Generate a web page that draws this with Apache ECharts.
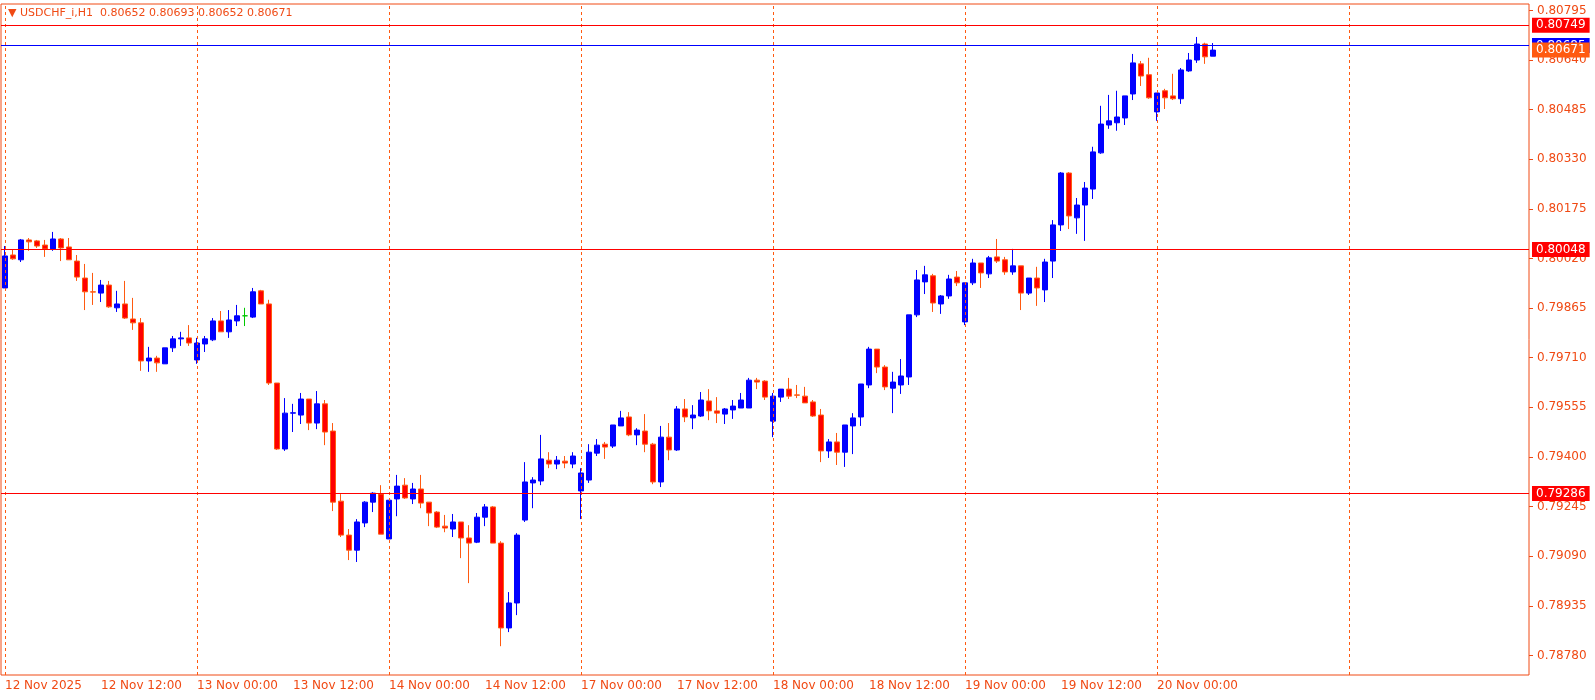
<!DOCTYPE html>
<html><head><meta charset="utf-8">
<script src="https://cdn.jsdelivr.net/npm/echarts@6/dist/echarts.min.js"></script>
<style>html,body{margin:0;padding:0;background:#fff}#c{width:1595px;height:700px}</style>
</head><body><div id="c"></div>
<script>
// OHLC values (1e-5 units of price), one entry per H1 bar from 12 Nov 2025 00:00
const openP  = [79928,80031,80016,80078,80075,80062,80050,80081,80056,80012,79959,79916,79912,79937,79866,79878,79831,79819,79700,79709,79691,79741,79769,79772,79703,79753,79766,79825,79791,79825,79841,79837,79919,79878,79631,79425,79537,79531,79581,79506,79566,79481,79262,79156,79109,79194,79259,79284,79144,79269,79312,79269,79300,79259,79228,79184,79175,79197,79147,79134,79212,79244,79131,78866,78944,79203,79319,79325,79390,79378,79387,79378,79294,79328,79412,79440,79434,79497,79525,79469,79481,79440,79322,79462,79422,79550,79522,79528,79575,79544,79534,79547,79553,79553,79640,79637,79512,79587,79612,79594,79590,79572,79531,79419,79447,79415,79497,79525,79625,79737,79681,79615,79625,79650,79844,79947,79966,79878,79903,79962,79822,79944,80006,79972,80025,80016,79978,79997,79912,79959,79922,80012,80125,80287,80147,80187,80237,80350,80437,80444,80459,80534,80628,80594,80478,80544,80528,80519,80606,80640,80690,80652];
const highP  = [80059,80047,80081,80084,80078,80078,80103,80084,80084,80031,80003,79975,79953,79950,79919,79950,79897,79834,79744,79716,79741,79778,79791,79812,79772,79778,79834,79856,79859,79875,79866,79928,79922,79891,79631,79584,79566,79600,79581,79606,79578,79506,79284,79175,79206,79262,79290,79312,79265,79344,79334,79319,79344,79259,79231,79219,79222,79197,79187,79225,79253,79247,79137,78978,79162,79384,79337,79469,79415,79403,79403,79415,79365,79440,79456,79447,79500,79544,79540,79490,79534,79444,79497,79506,79559,79581,79562,79603,79612,79587,79553,79578,79600,79647,79647,79640,79600,79612,79647,79625,79619,79578,79550,79456,79475,79500,79537,79628,79744,79737,79687,79666,79706,79844,79984,79997,79972,79906,79969,79981,79944,80019,80006,80028,80081,80025,80050,79997,79959,79994,80019,80140,80290,80290,80209,80259,80369,80497,80531,80544,80528,80659,80637,80647,80537,80550,80597,80615,80662,80712,80694,80693];
const lowP   = [79928,80016,80009,80044,80053,80025,80044,80012,80016,79950,79859,79875,79884,79866,79853,79831,79797,79669,79666,79666,79691,79728,79747,79747,79691,79728,79762,79791,79772,79809,79809,79834,79878,79625,79422,79419,79478,79503,79484,79487,79437,79231,79150,79078,79072,79181,79228,79159,79144,79215,79269,79253,79240,79184,79178,79165,79150,79084,79006,79131,79184,79131,78809,78853,78906,79197,79240,79312,79365,79362,79365,79365,79206,79319,79403,79394,79428,79497,79465,79437,79415,79315,79306,79390,79419,79509,79487,79525,79515,79506,79503,79519,79553,79553,79612,79578,79462,79572,79581,79584,79569,79525,79384,79397,79375,79369,79409,79497,79615,79662,79609,79537,79597,79625,79837,79909,79853,79847,79894,79934,79812,79937,79928,79959,80006,79969,79969,79859,79906,79872,79884,79959,80106,80112,80097,80075,80206,80347,80425,80419,80437,80515,80559,80519,80450,80487,80515,80503,80603,80631,80628,80652];
const closeP = [80028,80019,80078,80072,80059,80050,80081,80053,80016,79962,79916,79915,79937,79869,79878,79834,79819,79700,79709,79694,79741,79769,79772,79756,79756,79769,79825,79791,79828,79841,79841,79916,79878,79631,79425,79537,79538,79581,79506,79566,79478,79259,79156,79109,79197,79259,79287,79159,79265,79309,79272,79300,79256,79225,79181,79178,79197,79147,79131,79212,79244,79131,78866,78944,79156,79322,79328,79394,79378,79390,79381,79403,79350,79415,79437,79431,79500,79522,79469,79484,79440,79322,79462,79422,79550,79525,79531,79578,79544,79537,79550,79559,79578,79640,79634,79587,79590,79612,79590,79593,79569,79528,79419,79447,79415,79500,79522,79628,79737,79681,79619,79634,79653,79844,79953,79969,79881,79903,79956,79944,79944,80006,79975,80022,80012,79978,79997,79912,79959,79928,80009,80125,80287,80153,80187,80240,80353,80440,80450,80462,80528,80631,80590,80522,80537,80522,80519,80609,80640,80690,80650,80671];
const dayNames = ['12 Nov','13 Nov','14 Nov','17 Nov','18 Nov','19 Nov','20 Nov','21 Nov','24 Nov'];
const yTicks = [0.78780,0.78935,0.79090,0.79245,0.79400,0.79555,0.79710,0.79865,0.80020,0.80175,0.80330,0.80485,0.80640,0.80795];
const levelLines = [0.80749,0.80048,0.79286];
const askLine = 0.80685;
const lastPrice = 0.80671;
const daySeparators = [0,24,48,72,96,120,144,168];
const header = 'USDCHF_i,H1  0.80652 0.80693 0.80652 0.80671';

const nSlots = 191;
const cats = [];
for (let i = 0; i < nSlots; i++) {
  const d = Math.floor(i / 24), h = i % 24;
  let s = dayNames[d] + ' ' + String(h).padStart(2,'0') + ':00';
  if (i === 0) s = '12 Nov 2025';
  cats.push(s);
}
const S = 1e5;
const data = openP.map((o,i)=>{
  const v = [o/S, closeP[i]/S, lowP[i]/S, highP[i]/S];
  if (i === 30) return {value:v, itemStyle:{color:'#00C800',borderColor:'#00C800',color0:'#00C800',borderColor0:'#00C800'}};
  return v;
});
const ORG = '#F04A14';
const lbl = (txt,bg,extra)=>Object.assign({show:true,position:'end',formatter:txt,color:'#fff',backgroundColor:bg,padding:[2,4,1,4],distance:3,fontSize:12,fontFamily:'DejaVu Sans'},extra||{});
const hLines = [{yAxis:askLine,lineStyle:{color:'#0000FF',width:1,type:'solid'},label:lbl(askLine.toFixed(5),'#0000FF')}];
levelLines.forEach(v=>hLines.push({yAxis:v,lineStyle:{color:'#FF0000',width:1,type:'solid'},label:lbl(v.toFixed(5),'#FF0000')}));
hLines.push({yAxis:lastPrice,lineStyle:{color:'rgba(0,0,0,0)',width:1},label:lbl(lastPrice.toFixed(5),'#FF5A10')});
const vLines = daySeparators.map(i=>({xAxis:i}));

const chart = echarts.init(document.getElementById('c'));
chart.setOption({
  animation:false,
  backgroundColor:'#fff',
  grid:{left:1,right:66,top:4,bottom:25,show:true,borderColor:ORG,borderWidth:1,backgroundColor:'#fff'},
  xAxis:{type:'category',data:cats,boundaryGap:true,
    axisLine:{show:false},axisTick:{show:false},splitLine:{show:false},
    axisLabel:{interval:(i)=>i%12===0 && i<=151,formatter:v=>v,align:'left',color:ORG,fontSize:12,fontFamily:'DejaVu Sans',margin:5}},
  yAxis:{type:'value',position:'right',min:0.78719,max:0.80815,scale:true,
    axisLine:{show:false},splitLine:{show:false},
    axisTick:{show:true,customValues:yTicks,length:4,lineStyle:{color:ORG}},
    axisLabel:{customValues:yTicks,formatter:v=>v.toFixed(5),color:ORG,fontSize:12,fontFamily:'DejaVu Sans',margin:8}},
  graphic:[{type:'text',left:8,top:8,style:{text:'▼ '+header,fill:ORG,font:'11px "DejaVu Sans"'}}],
  series:[
    {type:'candlestick',data:data,barWidth:5,
     itemStyle:{color:'#0000FF',borderColor:'#0000FF',color0:'#FF0000',borderColor0:'#FF5A10',borderWidth:1},
     markLine:{symbol:'none',silent:true,animation:false,label:{show:false},
       lineStyle:{color:'#FF5A10',width:1,type:[3,3]},data:vLines}},
    {type:'line',data:[],z:3,
     markLine:{symbol:'none',silent:true,animation:false,precision:5,data:hLines}}
  ]
});
</script></body></html>
